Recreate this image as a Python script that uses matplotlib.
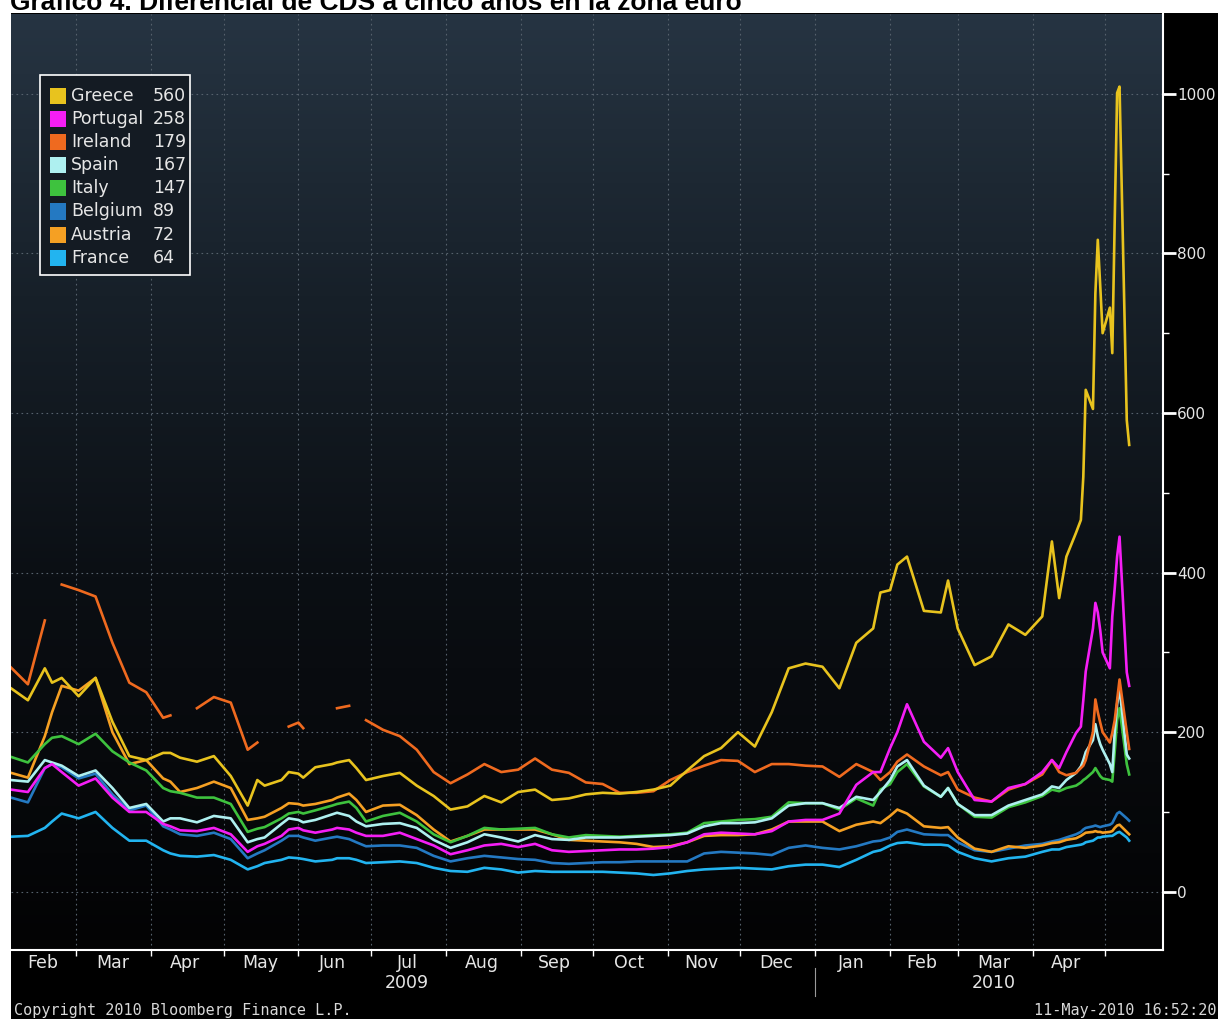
import numpy as np
import pandas as pd
import matplotlib
matplotlib.use('Agg')
import matplotlib.pyplot as plt
import matplotlib.dates as mdates
from matplotlib.patches import Rectangle
from matplotlib.colors import LinearSegmentedColormap
from matplotlib.ticker import FixedLocator, FixedFormatter, NullFormatter
from matplotlib.transforms import blended_transform_factory

nan = np.nan

# --- data (5y CDS spreads, bp) ---
dates = pd.to_datetime([
    '2009-02-02', '2009-02-09', '2009-02-16', '2009-02-19', '2009-02-23',
    '2009-03-02', '2009-03-09', '2009-03-16', '2009-03-23', '2009-03-30',
    '2009-04-06', '2009-04-09', '2009-04-13', '2009-04-20', '2009-04-27',
    '2009-05-04', '2009-05-11', '2009-05-15', '2009-05-18', '2009-05-25',
    '2009-05-28', '2009-06-01', '2009-06-03', '2009-06-08', '2009-06-15',
    '2009-06-17', '2009-06-22', '2009-06-25', '2009-06-29', '2009-07-06',
    '2009-07-13', '2009-07-20', '2009-07-27', '2009-08-03', '2009-08-10',
    '2009-08-17', '2009-08-24', '2009-08-31', '2009-09-07', '2009-09-14',
    '2009-09-21', '2009-09-28', '2009-10-05', '2009-10-12', '2009-10-19',
    '2009-10-26', '2009-11-02', '2009-11-09', '2009-11-16', '2009-11-23',
    '2009-11-30', '2009-12-07', '2009-12-14', '2009-12-21', '2009-12-28',
    '2010-01-04', '2010-01-11', '2010-01-18', '2010-01-25', '2010-01-28',
    '2010-02-01', '2010-02-04', '2010-02-08', '2010-02-15', '2010-02-22',
    '2010-02-25', '2010-03-01', '2010-03-08', '2010-03-15', '2010-03-22',
    '2010-03-29', '2010-04-05', '2010-04-09', '2010-04-12', '2010-04-15',
    '2010-04-19', '2010-04-21', '2010-04-22', '2010-04-23', '2010-04-26',
    '2010-04-27', '2010-04-28', '2010-04-29', '2010-04-30', '2010-05-03',
    '2010-05-04', '2010-05-05', '2010-05-06', '2010-05-07', '2010-05-10',
    '2010-05-11'])

greece = [255, 240, 280, 262, 268, 245, 268, 213, 170, 165,
          174, 174, 168, 163, 170, 145, 108, 140, 133, 140,
          150, 148, 143, 156, 160, 162, 165, 155, 140, 145,
          149, 133, 120, 103, 107, 120, 112, 125, 128, 115,
          117, 122, 124, 123, 125, 128, 133, 152, 170, 180,
          200, 182, 225, 280, 286, 282, 255, 312, 330, 375,
          378, 410, 420, 352, 350, 390, 330, 284, 295, 335,
          322, 345, 439, 368, 420, 450, 466, 520, 629, 605,
          750, 817, 760, 700, 732, 675, 840, 1001, 1009, 591,
          560]
portugal = [128, 125, 155, 160, 150, 133, 142, 118, 100, 100,
            85, 82, 77, 76, 80, 72, 50, 57, 60, 70,
            78, 80, 77, 74, 78, 80, 78, 74, 70, 70,
            74, 66, 58, 47, 52, 58, 60, 56, 60, 52,
            50, 51, 52, 53, 53, 54, 56, 62, 72, 74,
            73, 72, 76, 88, 90, 90, 98, 134, 150, 150,
            180, 200, 235, 188, 168, 180, 150, 115, 113, 130,
            135, 150, 165, 155, 175, 199, 207, 240, 276, 330,
            362, 350, 328, 300, 280, 345, 380, 420, 445, 275,
            258]
ireland = [281, 260, 340, nan, 385, 378, 370, 312, 262, 250,
           218, 221, nan, 230, 244, 237, 178, 187, nan, nan,
           207, 212, 205, nan, nan, 230, 233, nan, 215, 203,
           195, 178, 150, 136, 147, 160, 150, 153, 167, 153,
           149, 137, 135, 124, 124, 126, 140, 150, 158, 165,
           164, 150, 160, 160, 158, 157, 144, 160, 150, 140,
           150, 163, 172, 157, 146, 150, 128, 118, 113, 128,
           135, 147, 165, 150, 146, 149, 155, 158, 165, 200,
           241, 225, 212, 200, 187, 199, 215, 240, 266, 200,
           179]
spain = [140, 138, 165, 162, 158, 145, 152, 130, 105, 110,
         88, 92, 92, 87, 95, 92, 62, 66, 68, 85,
         92, 90, 87, 90, 97, 99, 95, 88, 82, 85,
         86, 80, 65, 55, 62, 72, 68, 63, 71, 66,
         65, 68, 68, 68, 69, 70, 71, 73, 82, 86,
         86, 87, 92, 108, 111, 111, 105, 119, 115, 125,
         140, 157, 165, 133, 119, 130, 110, 96, 96, 108,
         115, 122, 132, 130, 140, 149, 157, 165, 175, 190,
         210, 195, 185, 178, 160, 150, 200, 235, 255, 172,
         167]
italy = [169, 162, 185, 193, 195, 185, 198, 176, 162, 152,
         130, 126, 124, 118, 118, 110, 75, 79, 81, 92,
         98, 100, 98, 102, 108, 110, 113, 105, 88, 95,
         99, 88, 72, 62, 70, 80, 78, 79, 80, 72,
         68, 71, 70, 69, 70, 71, 72, 74, 86, 88,
         90, 91, 94, 112, 111, 111, 103, 117, 108, 128,
         135, 150, 160, 132, 119, 130, 110, 94, 93, 106,
         112, 120, 128, 126, 130, 133, 137, 140, 142, 150,
         155, 150, 145, 142, 140, 138, 175, 215, 230, 160,
         147]
belgium = [118, 112, 155, 160, 156, 142, 148, 122, 102, 108,
           82, 78, 72, 70, 74, 66, 42, 48, 52, 64,
           70, 70, 68, 64, 68, 69, 66, 62, 57, 58,
           58, 55, 45, 38, 42, 45, 43, 41, 40, 36,
           35, 36, 37, 37, 38, 38, 38, 38, 48, 50,
           49, 48, 46, 55, 58, 55, 53, 57, 63, 64,
           68, 75, 78, 72, 71, 71, 62, 52, 50, 54,
           58, 60, 63, 65, 68, 72, 75, 78, 80, 82,
           83, 82, 81, 82, 84, 86, 92, 98, 100, 92,
           89]
austria = [149, 143, 195, 225, 258, 252, 268, 200, 160, 165,
           142, 138, 125, 130, 138, 130, 90, 92, 94, 105,
           111, 110, 108, 110, 115, 118, 123, 115, 100, 108,
           109, 96, 78, 63, 70, 78, 78, 78, 78, 72,
           65, 64, 63, 62, 60, 56, 57, 62, 70, 71,
           71, 72, 78, 88, 88, 88, 76, 84, 88, 86,
           95, 103, 98, 82, 80, 81, 68, 54, 50, 57,
           55, 58, 61, 62, 65, 67, 70, 72, 74, 75,
           76, 75, 75, 74, 75, 76, 80, 83, 84, 75,
           72]
france = [69, 70, 80, 88, 98, 92, 100, 80, 64, 64,
          52, 48, 45, 44, 46, 40, 28, 32, 36, 40,
          43, 42, 41, 38, 40, 42, 42, 40, 36, 37,
          38, 36, 30, 26, 25, 30, 28, 24, 26, 25,
          25, 25, 25, 24, 23, 21, 23, 26, 28, 29,
          30, 29, 28, 32, 34, 34, 31, 40, 50, 52,
          58, 61, 62, 59, 59, 58, 50, 42, 38, 42,
          44, 50, 53, 53, 56, 58, 59, 60, 62, 64,
          66, 68, 68, 69, 70, 70, 72, 74, 75, 68,
          64]

countries = ['Greece', 'Portugal', 'Ireland', 'Spain', 'Italy', 'Belgium', 'Austria', 'France']
values = [greece, portugal, ireland, spain, italy, belgium, austria, france]
colors = ['#e8c31e', '#f51ef5', '#ef6a1f', '#aef0f0', '#3ec23e', '#2479c2', '#f5a023', '#22b4f0']
draw_order = ['France', 'Belgium', 'Austria', 'Italy', 'Spain', 'Ireland', 'Portugal', 'Greece']

month_labels = ['Feb', 'Mar', 'Apr', 'May', 'Jun', 'Jul', 'Aug', 'Sep', 'Oct',
                'Nov', 'Dec', 'Jan', 'Feb', 'Mar', 'Apr']
label_dates = pd.to_datetime(['2009-02-15', '2009-03-16', '2009-04-15', '2009-05-16',
                              '2009-06-15', '2009-07-16', '2009-08-16', '2009-09-15',
                              '2009-10-16', '2009-11-15', '2009-12-16', '2010-01-16',
                              '2010-02-14', '2010-03-16', '2010-04-15'])
year_labels = ['2009', '2010']
year_dates = pd.to_datetime(['2009-07-16', '2010-03-16'])

title = 'Gráfico 4. Diferencial de CDS a cinco años en la zona euro'
copyright_text = 'Copyright 2010 Bloomberg Finance L.P.'
stamp_text = '11-May-2010 16:52:20'

# --- figure ---
W, H = 1218, 1019


def fx(x):
    return x / W


def fy(y):
    return 1 - y / H


fig = plt.figure(figsize=(W / 100, H / 100), dpi=100)
fig.patch.set_facecolor('white')
fig.patches.append(Rectangle((fx(11), 0), 1 - fx(11), fy(13), transform=fig.transFigure,
                             facecolor='black', edgecolor='none', zorder=-10))

ax = fig.add_axes([fx(11), fy(950), (1163 - 11) / W, (950 - 14) / H])
ax.set_facecolor('black')

# dark bloomberg gradient
cmap = LinearSegmentedColormap.from_list('bbg', [(0.0, '#263442'), (0.3, '#172029'),
                                                 (0.6, '#0b0f14'), (1.0, '#030304')])
grad = np.linspace(0, 1, 256).reshape(-1, 1)
ax.imshow(grad, cmap=cmap, extent=[0, 1, 0, 1], transform=ax.transAxes,
          aspect='auto', zorder=0, interpolation='bilinear')

for name in draw_order:
    i = countries.index(name)
    ax.plot(dates, np.array(values[i], dtype=float), color=colors[i], lw=1.9,
            solid_joinstyle='round', zorder=3)

ax.set_xlim(pd.Timestamp('2009-02-02'), pd.Timestamp('2010-05-25'))
ax.set_ylim(-73, 1100)

# x axis: month boundaries as ticks, labels mid month
ax.xaxis.set_major_locator(mdates.MonthLocator())
ax.xaxis.set_major_formatter(NullFormatter())
ax.xaxis.set_minor_locator(FixedLocator(mdates.date2num(label_dates)))
ax.xaxis.set_minor_formatter(FixedFormatter(month_labels))
ax.tick_params(axis='x', which='major', length=4, width=1, color='white', direction='out')
ax.tick_params(axis='x', which='minor', length=0, pad=3, labelsize=12.5, labelcolor='#e6e6e6')

# y axis on the right
ax.yaxis.tick_right()
ax.set_yticks([0, 200, 400, 600, 800, 1000])
ax.set_yticks([100, 300, 500, 700, 900], minor=True)
ax.tick_params(axis='y', which='major', length=9, width=2, color='white', pad=1,
               labelsize=11, labelcolor='#e6e6e6')
ax.tick_params(axis='y', which='minor', length=4, width=1, color='white')

ax.grid(True, which='major', color='#56616c', linestyle=(0, (1.5, 3)), linewidth=0.8)
ax.set_axisbelow(True)

for side in ['left', 'top']:
    ax.spines[side].set_visible(False)
for side in ['right', 'bottom']:
    ax.spines[side].set_color('white')
    ax.spines[side].set_linewidth(1.5)

trans = blended_transform_factory(ax.transData, ax.transAxes)
for lab, d in zip(year_labels, year_dates):
    ax.text(d, -0.026, lab, transform=trans, ha='center', va='top', fontsize=12.5,
            color='#e6e6e6')
jan1 = pd.Timestamp('2010-01-01')
ax.plot([jan1, jan1], [-0.019, -0.049], transform=trans, color='#9a9a9a', lw=0.8, clip_on=False)

# legend box
fig.patches.append(Rectangle((fx(40), fy(275)), 150 / W, 200 / H, transform=fig.transFigure,
                             facecolor='#141b23', edgecolor='white', lw=1.2, zorder=5))
for i, name in enumerate(countries):
    yc = 96 + 23.1 * i
    fig.patches.append(Rectangle((fx(50), fy(yc + 8)), 16 / W, 16 / H, transform=fig.transFigure,
                                 facecolor=colors[i], edgecolor='none', zorder=6))
    fig.text(fx(71), fy(yc), name, va='center', ha='left', fontsize=12.5,
             color='#e6e6e6', zorder=7)
    fig.text(fx(153), fy(yc), f'{values[i][-1]:.0f}', va='center', ha='left', fontsize=12.5,
             color='#e6e6e6', zorder=7)

# texts around
fig.text(fx(10), fy(10), title, va='baseline', ha='left', fontsize=19, fontweight='bold',
         family='Liberation Sans', color='black', zorder=10)
fig.text(fx(14), fy(1010), copyright_text, va='center', ha='left', fontsize=10.9,
         family='DejaVu Sans Mono', color='#d8d8d8')
fig.text(fx(1216), fy(1010), stamp_text, va='center', ha='right', fontsize=10.9,
         family='DejaVu Sans Mono', color='#d8d8d8')

fig.savefig('out.png', dpi=100, facecolor=fig.get_facecolor())
